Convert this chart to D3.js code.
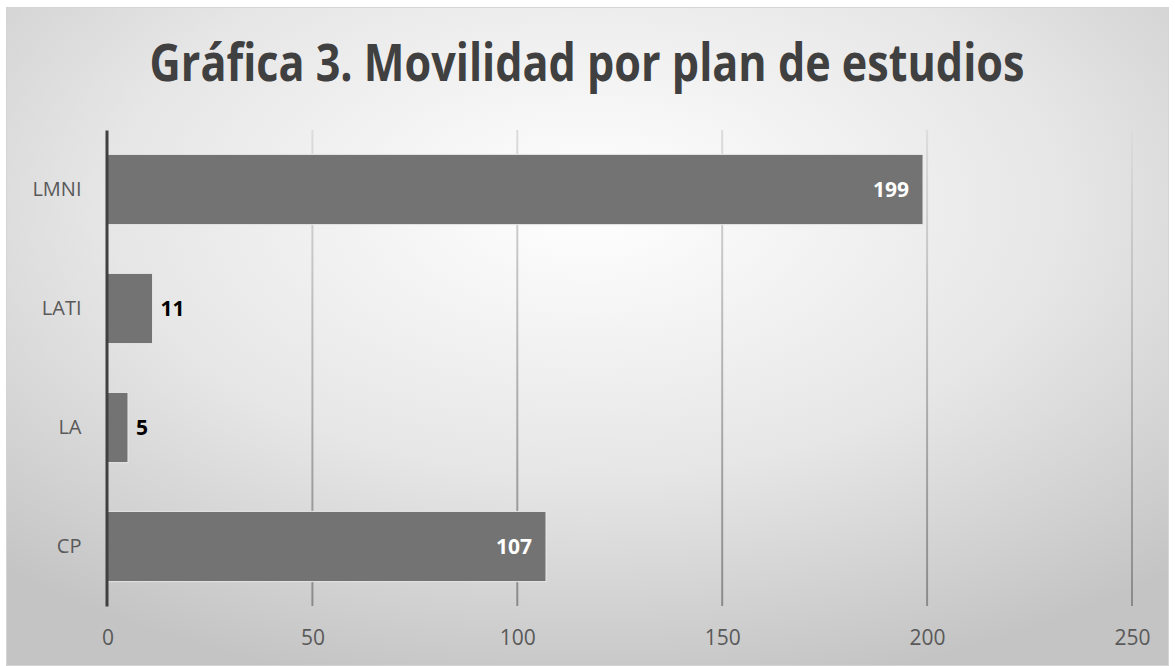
<!DOCTYPE html>
<html>
<head>
<meta charset="utf-8">
<script src="https://cdn.jsdelivr.net/npm/d3@7"></script>
<style>
  body { margin: 0; background: #fff; }
  svg { display: block; font-family: "Open Sans", "DejaVu Sans", sans-serif; }
</style>
</head>
<body>
<svg id="chart"></svg>
<script>
const categories = ["LMNI", "LATI", "LA", "CP"];
const values = [199, 11, 5, 107];
const ticks = [0, 50, 100, 150, 200, 250];
const title = "Gráfica 3. Movilidad por plan de estudios";

const width = 1175;
const height = 666;

const svg = d3.select("#chart")
  .attr("width", width)
  .attr("height", height);

const defs = svg.append("defs");
const bg = defs.append("radialGradient")
  .attr("id", "bg")
  .attr("cx", "50%").attr("cy", "30%").attr("r", "75%");
bg.append("stop").attr("offset", "0%").attr("stop-color", "#ffffff");
bg.append("stop").attr("offset", "55%").attr("stop-color", "#e6e6e6");
bg.append("stop").attr("offset", "100%").attr("stop-color", "#c4c4c4");

const gridGrad = defs.append("linearGradient")
  .attr("id", "gridGrad")
  .attr("gradientUnits", "userSpaceOnUse")
  .attr("x1", 0).attr("y1", 130).attr("x2", 0).attr("y2", 606);
gridGrad.append("stop").attr("offset", "0%").attr("stop-color", "#dcdcdc");
gridGrad.append("stop").attr("offset", "100%").attr("stop-color", "#8a8a8a");

// chart area
svg.append("rect")
  .attr("x", 6.5).attr("y", 7.5)
  .attr("width", width - 13).attr("height", height - 8)
  .attr("fill", "url(#bg)")
  .attr("stroke", "#d4d4d4");

// title, squeezed horizontally to the narrow Calibri look
const titleText = svg.append("text")
  .attr("text-anchor", "middle")
  .attr("font-size", 52)
  .attr("font-weight", "bold")
  .attr("fill", "#404040")
  .text(title);
const natural = titleText.node().getComputedTextLength();
titleText.attr("transform", `translate(587,81) scale(${875 / natural},1)`);

const x = d3.scaleLinear().domain([0, 250]).range([107.5, 1132]);
const y = d3.scaleBand().domain(categories).range([130, 606]).paddingInner(0.41).paddingOuter(0.205);

// gridlines
svg.append("g")
  .selectAll("line")
  .data(ticks.slice(1))
  .join("line")
  .attr("x1", d => x(d)).attr("x2", d => x(d))
  .attr("y1", 130).attr("y2", 606)
  .attr("stroke", "url(#gridGrad)")
  .attr("stroke-width", 2);

// bars
svg.append("g")
  .selectAll("rect")
  .data(values)
  .join("rect")
  .attr("x", x(0))
  .attr("y", (d, i) => y(categories[i]))
  .attr("width", d => x(d) - x(0))
  .attr("height", y.bandwidth())
  .attr("fill", "#737373")
  .attr("stroke", "#e8e8e8")
  .attr("stroke-width", 1);

// value labels
svg.append("g")
  .selectAll("text")
  .data(values)
  .join("text")
  .attr("x", d => d > 50 ? x(d) - 14 : x(d) + 8)
  .attr("y", (d, i) => y(categories[i]) + y.bandwidth() / 2)
  .attr("dy", "0.36em")
  .attr("text-anchor", d => d > 50 ? "end" : "start")
  .attr("font-size", 21)
  .attr("font-weight", "bold")
  .attr("fill", d => d > 50 ? "#ffffff" : "#000000")
  .text(d => d);

// x axis
const xAxis = svg.append("g")
  .attr("transform", "translate(0,606)")
  .call(d3.axisBottom(x).tickValues(ticks).tickSize(0).tickPadding(24));
xAxis.select(".domain").remove();
xAxis.selectAll("text")
  .attr("font-size", 21)
  .attr("font-family", "Open Sans, sans-serif")
  .attr("fill", "#595959");

// y axis
const yAxis = svg.append("g")
  .attr("transform", `translate(${x(0) - 1},0)`)
  .call(d3.axisLeft(y).tickSize(0).tickPadding(25));
yAxis.select(".domain")
  .attr("stroke", "#404040")
  .attr("stroke-width", 3);
yAxis.selectAll("text")
  .attr("font-size", 20)
  .attr("font-family", "Open Sans, sans-serif")
  .attr("fill", "#595959");
</script>
</body>
</html>
